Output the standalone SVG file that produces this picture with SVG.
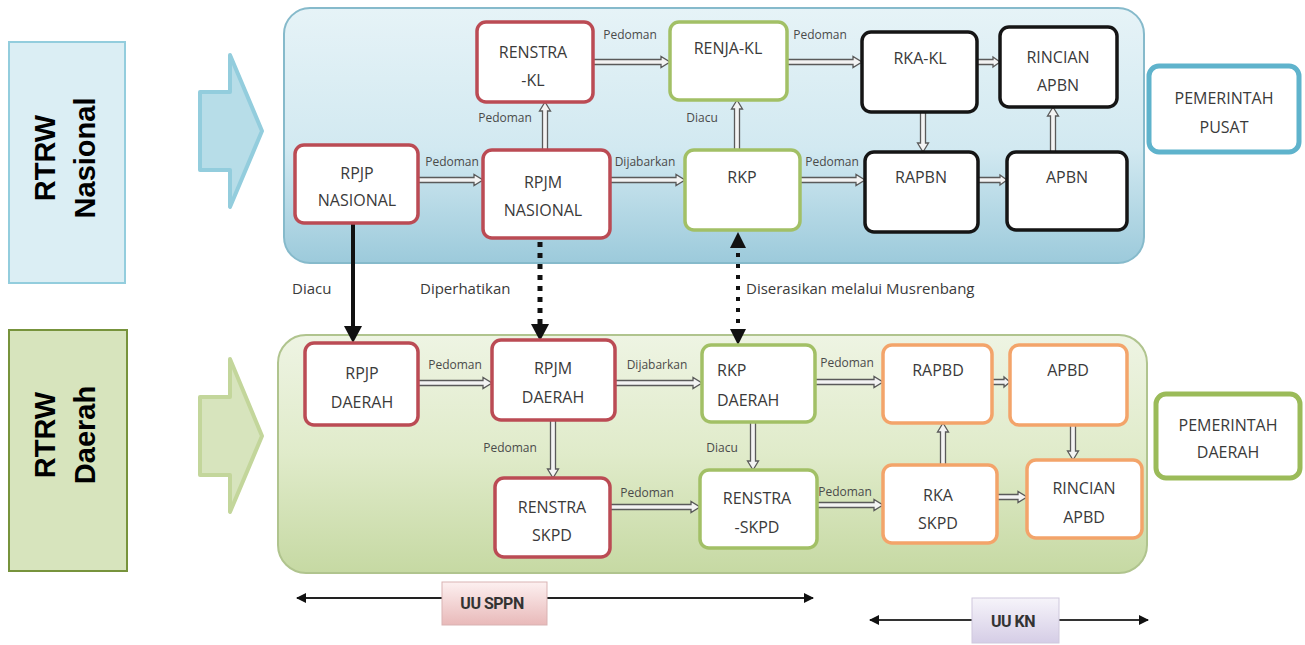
<svg xmlns="http://www.w3.org/2000/svg" width="1305" height="645" viewBox="0 0 1305 645">
<defs>
<linearGradient id="gTop" x1="0" y1="0" x2="0" y2="1">
<stop offset="0" stop-color="#e6f3f7"/>
<stop offset="0.55" stop-color="#d2e9f1"/>
<stop offset="1" stop-color="#9ccadb"/>
</linearGradient>
<linearGradient id="gBot" x1="0" y1="0" x2="0" y2="1">
<stop offset="0" stop-color="#eef4e3"/>
<stop offset="0.5" stop-color="#e0ebca"/>
<stop offset="1" stop-color="#c6d9a3"/>
</linearGradient>
<linearGradient id="gPink" x1="0" y1="0" x2="0" y2="1">
<stop offset="0" stop-color="#fdf0f0"/>
<stop offset="1" stop-color="#e8b9b9"/>
</linearGradient>
<linearGradient id="gLav" x1="0" y1="0" x2="0" y2="1">
<stop offset="0" stop-color="#f6f4fa"/>
<stop offset="1" stop-color="#d5cde6"/>
</linearGradient>
<marker id="blk" viewBox="0 0 10 10" refX="9" refY="5" markerWidth="5" markerHeight="5" orient="auto-start-reverse">
<path d="M0,0 L10,5 L0,10 z" fill="#111"/>
</marker>
</defs>
<style>
.nd{fill:#ffffff;stroke-width:3.5}
.red{stroke:#bb4b54}
.grn{stroke:#a2c066}
.blk{stroke:#151515}
.org{stroke:#f3a46a}
.t{font-family:"Open Sans","DejaVu Sans",sans-serif;font-size:16px;fill:#3a3a3a;text-anchor:middle}
.ts{text-anchor:start}
.lb{font-family:"Open Sans","DejaVu Sans",sans-serif;font-size:12px;fill:#4a4a4a;text-anchor:middle}
.lb2{font-family:"Open Sans","DejaVu Sans",sans-serif;font-size:15px;fill:#3a3a3a}
.da{fill:#f3f3f3;stroke:#5a5a5a;stroke-width:1.3;stroke-linejoin:miter}
.side{font-family:"Liberation Sans",Arial,sans-serif;font-size:29px;font-weight:bold;fill:#000;text-anchor:middle}
.uu{font-family:Roboto,"Liberation Sans",sans-serif;font-size:16px;font-weight:bold;fill:#333;text-anchor:middle;letter-spacing:-0.5px}
</style>

<!-- side labels -->
<g id="rtrw-nasional">
<rect x="9" y="42" width="116" height="241" fill="#dbeef4" stroke="#93cddd" stroke-width="2"/>
<text class="side" transform="translate(55,158) rotate(-90)">RTRW</text>
<text class="side" transform="translate(95,158) rotate(-90)">Nasional</text>
</g>
<g id="rtrw-daerah">
<rect x="9" y="330" width="118" height="241" fill="#d7e4bd" stroke="#77933c" stroke-width="2"/>
<text class="side" transform="translate(55,435) rotate(-90)">RTRW</text>
<text class="side" transform="translate(95,435) rotate(-90)">Daerah</text>
</g>
<g id="arrow-blue">
<polygon points="200,92 230,92 230,55 262,131 230,207 230,170 200,170" fill="#b7dde8" stroke="#93cddd" stroke-width="4" stroke-linejoin="round"/>
</g>
<g id="arrow-green">
<polygon points="200,397 230,397 230,359 262,436 230,512 230,475 200,475" fill="#d7e4bd" stroke="#c3d69b" stroke-width="4" stroke-linejoin="round"/>
</g>

<!-- panels -->
<g id="panel-pusat">
<rect x="284" y="8" width="860" height="255" rx="26" fill="url(#gTop)" stroke="#86bacb" stroke-width="2"/>
</g>
<g id="panel-daerah">
<rect x="278" y="335" width="869" height="238" rx="28" fill="url(#gBot)" stroke="#b0c48e" stroke-width="2"/>
</g>

<!-- connectors -->
<g id="connectors">
<polygon class="da" points="593,59.5 661,59.5 661,56.5 670,62 661,67.5 661,64.5 593,64.5"/>
<polygon class="da" points="787,59.5 853,59.5 853,56.5 862,62 853,67.5 853,64.5 787,64.5"/>
<polygon class="da" points="977,59.5 993,59.5 993,57 1000,62 993,67 993,64.5 977,64.5"/>
<polygon class="da" points="542.5,150 542.5,111 539.5,111 545,102 550.5,111 547.5,111 547.5,150"/>
<polygon class="da" points="734.5,150 734.5,109 731.5,109 737,100 742.5,109 739.5,109 739.5,150"/>
<polygon class="da" points="920.5,112 920.5,143 917.5,143 923,152 928.5,143 925.5,143 925.5,112"/>
<polygon class="da" points="1050.5,152 1050.5,116 1047.5,116 1053,107 1058.5,116 1055.5,116 1055.5,152"/>
<polygon class="da" points="418,177.5 474,177.5 474,174.5 483,180 474,185.5 474,182.5 418,182.5"/>
<polygon class="da" points="610,177.5 676,177.5 676,174.5 685,180 676,185.5 676,182.5 610,182.5"/>
<polygon class="da" points="800,177.5 856,177.5 856,174.5 865,180 856,185.5 856,182.5 800,182.5"/>
<polygon class="da" points="978,177.5 1000,177.5 1000,175 1007,180 1000,185 1000,182.5 978,182.5"/>

<polygon class="da" points="418,380.5 483,380.5 483,377.5 492,383 483,388.5 483,385.5 418,385.5"/>
<polygon class="da" points="615,380.5 693,380.5 693,377.5 702,383 693,388.5 693,385.5 615,385.5"/>
<polygon class="da" points="815,379.5 874,379.5 874,376.5 883,382 874,387.5 874,384.5 815,384.5"/>
<polygon class="da" points="992,379.5 1004,379.5 1004,377 1010,382 1004,387 1004,384.5 992,384.5"/>
<polygon class="da" points="550.5,420 550.5,469 547.5,469 553,478 558.5,469 555.5,469 555.5,420"/>
<polygon class="da" points="750.5,422 750.5,461 747.5,461 753,470 758.5,461 755.5,461 755.5,422"/>
<polygon class="da" points="610,504.5 691,504.5 691,501.5 700,507 691,512.5 691,509.5 610,509.5"/>
<polygon class="da" points="817,502.5 874,502.5 874,499.5 883,505 874,510.5 874,507.5 817,507.5"/>
<polygon class="da" points="940.5,465 940.5,432 937.5,432 943,423 948.5,432 945.5,432 945.5,465"/>
<polygon class="da" points="1070.5,425 1070.5,451 1067.5,451 1073,460 1078.5,451 1075.5,451 1075.5,425"/>
<polygon class="da" points="997,494.5 1018,494.5 1018,491.5 1027,497 1018,502.5 1018,499.5 997,499.5"/>

<!-- between panels -->
<line x1="353" y1="223" x2="353" y2="327" stroke="#111" stroke-width="4"/>
<polygon points="344,326 362,326 353,343" fill="#111"/>
<line x1="540" y1="242" x2="540" y2="324" stroke="#111" stroke-width="5" stroke-dasharray="5 6"/>
<polygon points="531,324 549,324 540,341" fill="#111"/>
<polygon points="730,248 746,248 738,232" fill="#111"/>
<line x1="738" y1="253" x2="738" y2="329" stroke="#111" stroke-width="4" stroke-dasharray="4 7"/>
<polygon points="730,329 746,329 738,345" fill="#111"/>

<!-- labels -->
<text class="lb" x="630" y="39">Pedoman</text>
<text class="lb" x="820" y="39">Pedoman</text>
<text class="lb" x="505" y="122">Pedoman</text>
<text class="lb" x="702" y="122">Diacu</text>
<text class="lb" x="452" y="166">Pedoman</text>
<text class="lb" x="645" y="166">Dijabarkan</text>
<text class="lb" x="832" y="166">Pedoman</text>
<text class="lb2" x="292" y="294">Diacu</text>
<text class="lb2" x="420" y="294">Diperhatikan</text>
<text class="lb2" x="746" y="294">Diserasikan melalui Musrenbang</text>
<text class="lb" x="455" y="369">Pedoman</text>
<text class="lb" x="657" y="369">Dijabarkan</text>
<text class="lb" x="847" y="367">Pedoman</text>
<text class="lb" x="510" y="452">Pedoman</text>
<text class="lb" x="722" y="452">Diacu</text>
<text class="lb" x="647" y="497">Pedoman</text>
<text class="lb" x="845" y="496">Pedoman</text>
</g>

<!-- nodes: pusat -->
<g id="renstra-kl"><rect class="nd red" x="477" y="22" width="116" height="80" rx="9"/><text class="t" x="533" y="58">RENSTRA</text><text class="t" x="533" y="86">-KL</text></g>
<g id="renja-kl"><rect class="nd grn" x="670" y="22" width="117" height="78" rx="9"/><text class="t" x="728" y="54">RENJA-KL</text></g>
<g id="rka-kl"><rect class="nd blk" x="862" y="32" width="115" height="80" rx="9"/><text class="t" x="920" y="64">RKA-KL</text></g>
<g id="rincian-apbn"><rect class="nd blk" x="1000" y="27" width="117" height="80" rx="9"/><text class="t" x="1058" y="63">RINCIAN</text><text class="t" x="1058" y="91">APBN</text></g>
<g id="pemerintah-pusat"><rect x="1149" y="66" width="150" height="86" rx="10" fill="#fff" stroke="#5fb3cc" stroke-width="5"/><text class="t" x="1224" y="104">PEMERINTAH</text><text class="t" x="1224" y="133">PUSAT</text></g>
<g id="rpjp-nasional"><rect class="nd red" x="295" y="145" width="123" height="78" rx="9"/><text class="t" x="357" y="179">RPJP</text><text class="t" x="357" y="206">NASIONAL</text></g>
<g id="rpjm-nasional"><rect class="nd red" x="483" y="150" width="127" height="88" rx="9"/><text class="t" x="543" y="188">RPJM</text><text class="t" x="543" y="216">NASIONAL</text></g>
<g id="rkp"><rect class="nd grn" x="685" y="150" width="115" height="80" rx="9"/><text class="t" x="742" y="183">RKP</text></g>
<g id="rapbn"><rect class="nd blk" x="865" y="152" width="113" height="80" rx="9"/><text class="t" x="921" y="183">RAPBN</text></g>
<g id="apbn"><rect class="nd blk" x="1007" y="152" width="120" height="78" rx="9"/><text class="t" x="1067" y="183">APBN</text></g>

<!-- nodes: daerah -->
<g id="rpjp-daerah"><rect class="nd red" x="305" y="343" width="113" height="82" rx="9"/><text class="t" x="362" y="379">RPJP</text><text class="t" x="362" y="408">DAERAH</text></g>
<g id="rpjm-daerah"><rect class="nd red" x="492" y="340" width="123" height="80" rx="9"/><text class="t" x="553" y="374">RPJM</text><text class="t" x="553" y="403">DAERAH</text></g>
<g id="rkp-daerah"><rect class="nd grn" x="702" y="345" width="113" height="77" rx="9"/><text class="t ts" x="717" y="376">RKP</text><text class="t ts" x="717" y="406">DAERAH</text></g>
<g id="rapbd"><rect class="nd org" x="883" y="345" width="109" height="78" rx="9"/><text class="t" x="938" y="376">RAPBD</text></g>
<g id="apbd"><rect class="nd org" x="1010" y="345" width="117" height="80" rx="9"/><text class="t" x="1068" y="376">APBD</text></g>
<g id="renstra-skpd"><rect class="nd red" x="495" y="478" width="115" height="79" rx="9"/><text class="t" x="552" y="513">RENSTRA</text><text class="t" x="552" y="541">SKPD</text></g>
<g id="renstra-skpd2"><rect class="nd grn" x="700" y="470" width="117" height="78" rx="9"/><text class="t" x="757" y="504">RENSTRA</text><text class="t" x="757" y="533">-SKPD</text></g>
<g id="rka-skpd"><rect class="nd org" x="883" y="465" width="114" height="78" rx="9"/><text class="t" x="938" y="501">RKA</text><text class="t" x="938" y="529">SKPD</text></g>
<g id="rincian-apbd"><rect class="nd org" x="1027" y="460" width="115" height="78" rx="9"/><text class="t" x="1084" y="494">RINCIAN</text><text class="t" x="1084" y="523">APBD</text></g>
<g id="pemerintah-daerah"><rect x="1156" y="394" width="144" height="84" rx="10" fill="#fff" stroke="#9bbb59" stroke-width="5"/><text class="t" x="1228" y="431">PEMERINTAH</text><text class="t" x="1228" y="458">DAERAH</text></g>

<!-- legends -->
<g id="uu-sppn">
<line x1="297" y1="598" x2="813" y2="598" stroke="#222" stroke-width="2" marker-start="url(#blk)" marker-end="url(#blk)"/>
<rect x="442" y="582" width="105" height="43" fill="url(#gPink)" stroke="#d9b3b3" stroke-width="1"/>
<text class="uu" x="492" y="609">UU SPPN</text>
</g>
<g id="uu-kn">
<line x1="870" y1="620" x2="1148" y2="620" stroke="#333" stroke-width="2" marker-start="url(#blk)" marker-end="url(#blk)"/>
<rect x="972" y="598" width="87" height="45" fill="url(#gLav)" stroke="#cfc8dd" stroke-width="1"/>
<text class="uu" x="1013" y="627">UU KN</text>
</g>
</svg>
